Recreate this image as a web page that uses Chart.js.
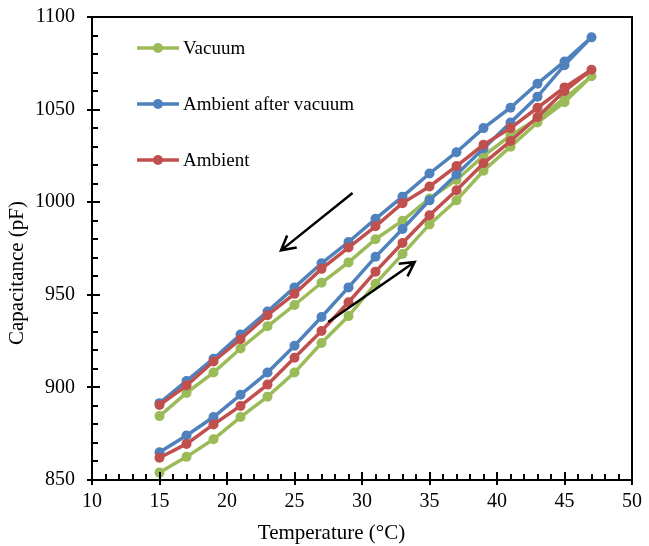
<!DOCTYPE html>
<html>
<head>
<meta charset="utf-8">
<script src="https://cdn.jsdelivr.net/npm/chart.js@4.4.1/dist/chart.umd.min.js"></script>
<style>
  html, body { margin: 0; padding: 0; background: #fff; }
  #wrap { width: 649px; height: 546px; position: relative; }
</style>
</head>
<body>
<div id="wrap"><canvas id="chart"></canvas></div>
<script>
// Temperaturas (°C) - mismas para calentamiento y enfriamiento
const temps = [15, 17, 19, 21, 23, 25, 27, 29, 31, 33, 35, 37, 39, 41, 43, 45, 47];

// Vacuum
const vacuumHeat = [854, 862.5, 872, 884, 895, 908, 924, 938.5, 956, 972, 988, 1001, 1017, 1030, 1043, 1054, 1068];
const vacuumCool = [884.5, 897, 908, 921, 933, 944.5, 956.5, 967.5, 980, 990, 1002, 1012, 1025, 1036, 1045, 1056, 1068];

// Ambient after vacuum
const afterHeat = [865, 874, 884, 896, 908, 922.5, 938, 954, 970.5, 985.5, 1001, 1015, 1029, 1043, 1057, 1074, 1089];
const afterCool = [891.5, 903.5, 915.5, 928.5, 941, 954, 967, 978.5, 991, 1003, 1015.5, 1027, 1040, 1051, 1064, 1076, 1089];

// Ambient
const ambientHeat = [862, 869.5, 880, 890, 901.5, 916, 930.5, 946, 962.5, 978, 993, 1006.5, 1021, 1033, 1046, 1060, 1071.5];
const ambientCool = [890.5, 901, 914, 926, 939, 950.5, 964, 975.5, 987, 999.5, 1008.5, 1019.5, 1031, 1040, 1051, 1062, 1071.5];

const seriesNames = ['Vacuum', 'Ambient after vacuum', 'Ambient'];
const seriesColors = ['#9BBB59', '#4F81BD', '#C0504D'];

const xTicks = [10, 15, 20, 25, 30, 35, 40, 45, 50];
const yTicks = [850, 900, 950, 1000, 1050, 1100];

const xTitle = 'Temperature (°C)';
const yTitle = 'Capacitance (pF)';

// Flechas (en coordenadas de datos): enfriamiento y calentamiento
const arrowCool = { from: [29.3, 1005], to: [24.0, 974] };
const arrowHeat = { from: [27.5, 935.3], to: [33.9, 967.7] };

const FONT = '"Liberation Serif", "Times New Roman", serif';

// Construir el lazo: calentamiento 15->47 y enfriamiento 47->15
function buildLoop(heat, cool) {
    const pts = heat.map((v, i) => ({ x: temps[i], y: v }));
    for (let i = cool.length - 2; i >= 0; i--) {
        pts.push({ x: temps[i], y: cool[i] });
    }
    return pts;
}

const loops = [
    buildLoop(vacuumHeat, vacuumCool),
    buildLoop(afterHeat, afterCool),
    buildLoop(ambientHeat, ambientCool)
];

// Ticks internos (mayores y menores), marco y flechas
const axisDecor = {
    id: 'axisDecor',
    afterDatasetsDraw(chart) {
        const ctx = chart.ctx;
        const a = chart.chartArea;
        const xs = chart.scales.x;
        const ys = chart.scales.y;
        ctx.save();
        ctx.strokeStyle = '#000';
        ctx.lineWidth = 2;

        // marco del area
        ctx.strokeRect(a.left, a.top, a.right - a.left, a.bottom - a.top);

        // ticks eje x
        ctx.beginPath();
        for (let v = 10; v <= 50; v += 1) {
            const px = Math.round(xs.getPixelForValue(v));
            const len = v % 5 === 0 ? 8 : 6;
            ctx.moveTo(px, a.bottom);
            ctx.lineTo(px, a.bottom - len);
        }
        // ticks eje y
        for (let v = 850; v <= 1100; v += 10) {
            const py = Math.round(ys.getPixelForValue(v));
            const len = v % 50 === 0 ? 8 : 6;
            ctx.moveTo(a.left, py);
            ctx.lineTo(a.left + len, py);
        }
        ctx.stroke();

        // flechas
        ctx.lineWidth = 2.5;
        [arrowCool, arrowHeat].forEach(ar => {
            const x1 = xs.getPixelForValue(ar.from[0]);
            const y1 = ys.getPixelForValue(ar.from[1]);
            const x2 = xs.getPixelForValue(ar.to[0]);
            const y2 = ys.getPixelForValue(ar.to[1]);
            const ang = Math.atan2(y2 - y1, x2 - x1);
            const head = 16;
            ctx.beginPath();
            ctx.moveTo(x1, y1);
            ctx.lineTo(x2, y2);
            ctx.moveTo(x2 - head * Math.cos(ang - 0.5), y2 - head * Math.sin(ang - 0.5));
            ctx.lineTo(x2, y2);
            ctx.lineTo(x2 - head * Math.cos(ang + 0.5), y2 - head * Math.sin(ang + 0.5));
            ctx.stroke();
        });
        ctx.restore();
    }
};

// Titulos de ejes centrados sobre el lienzo (como en Excel)
const axisTitles = {
    id: 'axisTitles',
    afterDraw(chart) {
        const ctx = chart.ctx;
        ctx.save();
        ctx.font = '21px ' + FONT;
        ctx.fillStyle = '#000';
        ctx.textAlign = 'center';
        ctx.textBaseline = 'middle';
        ctx.fillText(xTitle, chart.width / 2 + 7, chart.height - 13);
        ctx.translate(17, chart.height / 2);
        ctx.rotate(-Math.PI / 2);
        ctx.fillText(yTitle, 0, 0);
        ctx.restore();
    }
};

// Leyenda dentro del area del grafico
const insideLegend = {
    id: 'insideLegend',
    afterDraw(chart) {
        const ctx = chart.ctx;
        const a = chart.chartArea;
        ctx.save();
        ctx.font = '19px ' + FONT;
        ctx.textBaseline = 'middle';
        chart.data.datasets.forEach((ds, i) => {
            const y = a.top + 31 + i * 56;
            const x0 = a.left + 45;
            ctx.strokeStyle = ds.borderColor;
            ctx.lineWidth = 3.5;
            ctx.beginPath();
            ctx.moveTo(x0, y);
            ctx.lineTo(x0 + 42, y);
            ctx.stroke();
            ctx.fillStyle = ds.borderColor;
            ctx.beginPath();
            ctx.arc(x0 + 21, y, 5, 0, Math.PI * 2);
            ctx.fill();
            ctx.fillStyle = '#000';
            ctx.fillText(ds.label, x0 + 46, y + 1);
        });
        ctx.restore();
    }
};

new Chart(document.getElementById('chart'), {
    type: 'scatter',
    data: {
        datasets: loops.map((pts, i) => ({
            label: seriesNames[i],
            data: pts,
            showLine: true,
            borderColor: seriesColors[i],
            backgroundColor: seriesColors[i],
            borderWidth: 3.5,
            pointRadius: 5,
            pointHoverRadius: 5,
            pointBorderWidth: 0,
            order: 3 - i
        }))
    },
    options: {
        responsive: true,
        maintainAspectRatio: false,
        animation: false,
        layout: { padding: { top: 17, right: 17, left: 0, bottom: 0 } },
        plugins: {
            legend: { display: false },
            tooltip: { enabled: false }
        },
        scales: {
            x: {
                type: 'linear',
                min: 10,
                max: 50,
                afterBuildTicks(scale) { scale.ticks = xTicks.map(v => ({ value: v })); },
                afterFit(scale) {
                    scale.height = 66;
                    scale.paddingLeft = 0;
                    scale.paddingRight = 0;
                },
                ticks: {
                    color: '#000',
                    font: { family: FONT, size: 20 },
                    padding: 5,
                    maxRotation: 0,
                    callback: v => String(v)
                },
                grid: { drawOnChartArea: false, color: '#000', lineWidth: 2, tickLength: 5 },
                border: { color: '#000', width: 2 },
                title: { display: false }
            },
            y: {
                type: 'linear',
                min: 850,
                max: 1100,
                afterBuildTicks(scale) { scale.ticks = yTicks.map(v => ({ value: v })); },
                afterFit(scale) {
                    scale.width = 92;
                    scale.paddingTop = 0;
                    scale.paddingBottom = 0;
                },
                ticks: {
                    color: '#000',
                    font: { family: FONT, size: 20 },
                    padding: 12,
                    callback: v => String(v)
                },
                grid: { drawOnChartArea: false, color: '#000', lineWidth: 2, tickLength: 5 },
                border: { color: '#000', width: 2 },
                title: { display: false }
            }
        }
    },
    plugins: [axisDecor, axisTitles, insideLegend]
});
</script>
</body>
</html>
